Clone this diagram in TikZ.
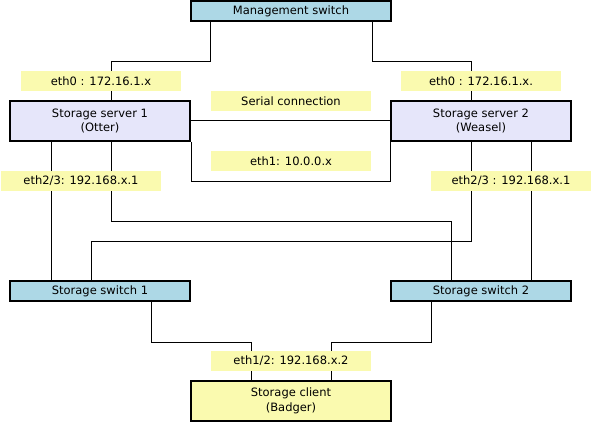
\documentclass[tikz,border=0pt]{standalone}
\usepackage{fontspec}
\setmainfont{DejaVu Sans}
\usepackage{tikz}
\usetikzlibrary{calc}
\definecolor{swblue}{RGB}{173,216,230}
\definecolor{srvlav}{RGB}{230,230,250}
\definecolor{paleyel}{RGB}{250,250,175}
\tikzset{
  box/.style={draw=black,line width=2pt,align=center,font=\fontsize{11.5}{14.5}\selectfont,inner sep=0pt,minimum height=20pt},
  switchbox/.style={box,fill=swblue,minimum width=180pt},
  server/.style={box,fill=srvlav,minimum width=180pt,minimum height=40pt},
  client/.style={box,fill=paleyel,minimum width=200pt,minimum height=40pt},
  lbl/.style={fill=paleyel,font=\fontsize{11.5}{14}\selectfont,inner sep=0pt,minimum width=160pt,minimum height=20pt},
  wire/.style={draw=black,line width=1pt},
}

\begin{document}
\begin{tikzpicture}[x=1pt,y=-1pt]
  \useasboundingbox (0,0) rectangle (592,422);
  \node[switchbox,minimum width=200pt] (mgmt) at (291,11) {Management switch};
  \node[server] (otter) at (100,121) {Storage server 1\\(Otter)};
  \node[server] (weasel) at (481,121) {Storage server 2\\(Weasel)};
  \node[switchbox] (sw1) at (100,291) {Storage switch 1};
  \node[switchbox] (sw2) at (481,291) {Storage switch 2};
  \node[client] (badger) at (291,401) {Storage client\\(Badger)};
  % management network
  \draw[wire] ([xshift=20pt]mgmt.south west) -- ++(0,40) -| ([xshift=11pt]otter.north);
  \draw[wire] ([xshift=-20pt]mgmt.south east) -- ++(0,40) -| ([xshift=-10pt]weasel.north);
  % heartbeat links
  \draw[wire] (otter.east) -- (weasel.west);
  \draw[wire] (otter.south east) -- ++(0,40) -| (weasel.south west);
  % storage network
  \draw[wire] ([xshift=-49pt]otter.south) -- ([xshift=-49pt]sw1.north);
  \draw[wire] ([xshift=11pt]otter.south) -- ++(0,80) -| ([xshift=-30pt]sw2.north);
  \draw[wire] ([xshift=-10pt]weasel.south) -- ++(0,100) -| ([xshift=-9pt]sw1.north);
  \draw[wire] ([xshift=50pt]weasel.south) -- ([xshift=50pt]sw2.north);
  \draw[wire] ([xshift=51pt]sw1.south) -- ++(0,40) -| ([xshift=-40pt]badger.north);
  \draw[wire] ([xshift=-50pt]sw2.south) -- ++(0,40) -| ([xshift=40pt]badger.north);
  % interface labels
  \node[lbl] (ipa) at (101,81) {eth0 : 172.16.1.x};
  \node[lbl] (ipb) at (481,81) {eth0 : 172.16.1.x.};
  \node[lbl] (ser) at (291,101) {Serial connection};
  \node[lbl] (hb) at (291,161) {eth1: 10.0.0.x};
  \node[lbl] (sta) at (81,181) {eth2/3: 192.168.x.1};
  \node[lbl] (stb) at (511,181) {eth2/3 : 192.168.x.1};
  \node[lbl] (stc) at (291,361) {eth1/2: 192.168.x.2};
\end{tikzpicture}
\end{document}
